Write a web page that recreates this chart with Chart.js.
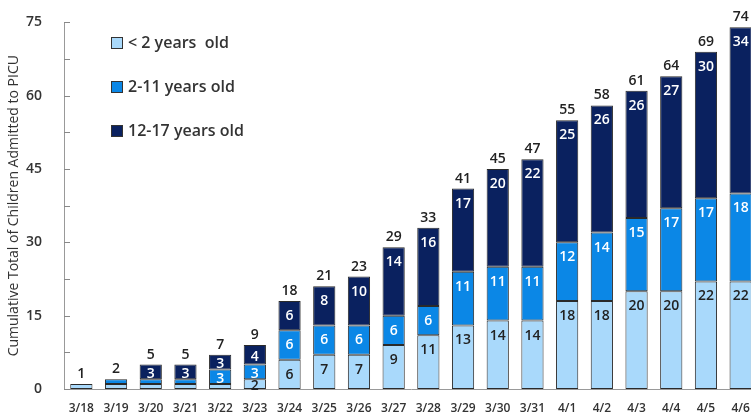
<!DOCTYPE html>
<html>
<head>
<meta charset="utf-8">
<script src="https://cdn.jsdelivr.net/npm/chart.js@4.4.1/dist/chart.umd.min.js"></script>
<style>
  html, body { margin: 0; padding: 0; background: #fff; overflow: hidden; }
  #wrap { width: 758px; height: 415px; }
</style>
</head>
<body>
<div id="wrap"><canvas id="picu" width="758" height="415"></canvas></div>
<script>
// Dates of admission
const days = ["3/18", "3/19", "3/20", "3/21", "3/22", "3/23", "3/24", "3/25", "3/26", "3/27",
  "3/28", "3/29", "3/30", "3/31", "4/1", "4/2", "4/3", "4/4", "4/5", "4/6"];

// cumulative counts per age group
const under2 = [1, 1, 1, 1, 1, 2, 6, 7, 7, 9, 11, 13, 14, 14, 18, 18, 20, 20, 22, 22];
const age2to11 = [0, 1, 1, 1, 3, 3, 6, 6, 6, 6, 6, 11, 11, 11, 12, 14, 15, 17, 17, 18];
const age12to17 = [0, 0, 3, 3, 3, 4, 6, 8, 10, 14, 16, 17, 20, 22, 25, 26, 26, 27, 30, 34];

const yTicks = [0, 15, 30, 45, 60, 75];

const colors = ["#a9d9fb", "#0b87e6", "#0a215f"];
const labelColors = ["#222", "#fff", "#fff"];
const names = ["< 2 years  old", "2-11 years old", "12-17 years old"];

const fontFam = "'Open Sans', 'Noto Sans', sans-serif";

// number labels inside segments + totals on top
const barLabels = {
  id: "barLabels",
  afterDatasetsDraw(chart) {
    const ctx = chart.ctx;
    ctx.save();
    ctx.textAlign = "center";
    ctx.textBaseline = "middle";
    ctx.font = "600 14px " + fontFam;
    chart.data.datasets.forEach((ds, i) => {
      const meta = chart.getDatasetMeta(i);
      meta.data.forEach((bar, j) => {
        const v = ds.data[j];
        if (v < 2) return;
        const h = bar.base - bar.y;
        ctx.fillStyle = labelColors[i];
        ctx.fillText(v, bar.x, bar.y + Math.min(15, h / 2 + 2));
      });
    });
    ctx.fillStyle = "#222";
    ctx.textBaseline = "bottom";
    days.forEach((d, j) => {
      const total = under2[j] + age2to11[j] + age12to17[j];
      const topBar = chart.getDatasetMeta(age12to17[j] > 0 ? 2 : (age2to11[j] > 0 ? 1 : 0)).data[j];
      ctx.fillText(total, topBar.x, topBar.y - 3);
    });
    ctx.restore();
  }
};

// legend and minor ticks
const extras = {
  id: "extras",
  afterDraw(chart) {
    const ctx = chart.ctx;
    const y = chart.scales.y;
    ctx.save();
    ctx.strokeStyle = "#888";
    ctx.lineWidth = 1;
    for (let v = 0; v <= 75; v += 7.5) {
      const py = Math.round(y.getPixelForValue(v)) + 0.5;
      ctx.beginPath();
      ctx.moveTo(y.right, py);
      ctx.lineTo(y.right + 6, py);
      ctx.stroke();
    }
    ctx.font = "600 16px " + fontFam;
    ctx.textBaseline = "middle";
    ctx.textAlign = "left";
    names.forEach((n, i) => {
      const ly = 43 + i * 44;
      ctx.fillStyle = colors[i];
      ctx.fillRect(111, ly - 6, 12, 12);
      ctx.strokeStyle = "#333";
      ctx.strokeRect(111.5, ly - 5.5, 11, 11);
      ctx.fillStyle = "#333";
      ctx.fillText(n, 128, ly);
    });
    ctx.restore();
  }
};

new Chart(document.getElementById("picu"), {
  type: "bar",
  data: {
    labels: days,
    datasets: [under2, age2to11, age12to17].map((d, i) => ({
      label: names[i],
      data: d,
      backgroundColor: colors[i],
      borderColor: "#2a2a2a",
      borderWidth: 1,
      borderSkipped: false,
      barPercentage: 0.64,
      categoryPercentage: 1.0
    }))
  },
  options: {
    responsive: false,
    animation: false,
    layout: { padding: { top: 19, right: 0, left: 0, bottom: 0 } },
    plugins: { legend: { display: false }, tooltip: { enabled: false } },
    scales: {
      x: {
        stacked: true,
        grid: { display: false },
        border: { color: "#999" },
        ticks: { color: "#333", font: { family: fontFam, size: 12, weight: "600" }, padding: 4, maxRotation: 0, autoSkip: false },
        afterFit(s) { s.height = 26; }
      },
      y: {
        stacked: true,
        min: 0,
        max: 75,
        afterBuildTicks(s) { s.ticks = yTicks.map(v => ({ value: v })); },
        grid: { display: false },
        border: { color: "#999" },
        ticks: { color: "#333", font: { family: fontFam, size: 14, weight: "600" }, padding: 14 },
        title: {
          display: true,
          text: "Cumulative Total of Children Admitted to PICU",
          color: "#333",
          font: { family: fontFam, size: 14 },
          padding: { top: 6, bottom: 0 }
        },
        afterFit(s) { s.width = 64; }
      }
    }
  },
  plugins: [barLabels, extras]
});
</script>
</body>
</html>
